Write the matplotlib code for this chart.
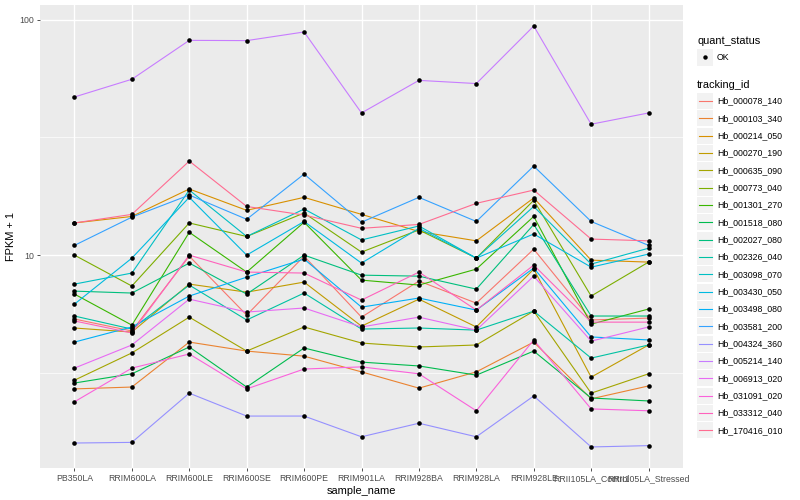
import numpy as np
import matplotlib
matplotlib.use("Agg")
import matplotlib.pyplot as plt
from matplotlib.lines import Line2D
from matplotlib.patches import Rectangle
from matplotlib.ticker import FixedLocator, NullFormatter

plt.rcParams['font.family'] = ['Liberation Sans', 'DejaVu Sans']

samples = ["PB350LA", "RRIM600LA", "RRIM600LE", "RRIM600SE", "RRIM600PE",
           "RRIM901LA", "RRIM928BA", "RRIM928LA", "RRIM928LE",
           "RRII105LA_Control", "RRII105LA_Stressed"]

tracking_ids = ["Hb_000078_140", "Hb_000103_340", "Hb_000214_050", "Hb_000270_190",
                "Hb_000635_090", "Hb_000773_040", "Hb_001301_270", "Hb_001518_080",
                "Hb_002027_080", "Hb_002326_040", "Hb_003098_070", "Hb_003430_050",
                "Hb_003498_080", "Hb_003581_200", "Hb_004324_360", "Hb_005214_140",
                "Hb_006913_020", "Hb_031091_020", "Hb_033312_040", "Hb_170416_010"]

colors = ["#F8766D", "#EA8331", "#D89000", "#C09B00", "#A3A500", "#7CAE00",
          "#39B600", "#00BB4E", "#00BF7D", "#00C1A3", "#00BFC4", "#00BAE0",
          "#00B0F6", "#35A2FF", "#9590FF", "#C77CFF", "#E76BF3", "#FA62DB",
          "#FF62BC", "#FF6C91"]

# FPKM + 1 values per tracking_id (columns follow `samples`)
Hb_000078_140 = [5.35, 4.76, 9.90, 5.56, 9.90, 5.45, 7.76, 6.25, 10.6, 5.30, 5.40]
Hb_000103_340 = [2.70, 2.75, 4.27, 3.91, 3.72, 3.19, 2.72, 3.19, 4.27, 2.45, 2.78]
Hb_000214_050 = [13.7, 14.6, 19.1, 15.5, 17.6, 14.9, 12.6, 11.5, 17.5, 9.52, 9.34]
Hb_000270_190 = [4.90, 4.71, 7.53, 6.96, 7.68, 4.99, 6.50, 4.95, 8.72, 3.03, 4.15]
Hb_000635_090 = [2.94, 3.84, 5.45, 3.91, 4.95, 4.23, 4.07, 4.15, 5.78, 2.59, 3.13]
Hb_000773_040 = [10.0, 7.39, 13.7, 12.0, 15.1, 10.3, 12.8, 9.71, 17.1, 6.70, 9.34]
Hb_001301_270 = [6.83, 5.04, 12.5, 8.47, 13.8, 7.83, 7.46, 8.72, 14.6, 5.09, 5.90]
Hb_001518_080 = [2.86, 3.13, 4.07, 2.75, 4.03, 3.51, 3.38, 3.09, 3.91, 2.47, 2.40]
Hb_002027_080 = [7.03, 6.90, 9.25, 6.83, 10.0, 8.22, 8.14, 7.17, 13.5, 5.51, 5.51]
Hb_002326_040 = [5.51, 4.85, 7.46, 5.30, 6.90, 4.85, 4.90, 4.80, 5.78, 3.65, 4.15]
Hb_003098_070 = [7.53, 8.39, 18.9, 12.0, 15.7, 11.6, 13.3, 9.71, 16.1, 9.16, 10.7]
Hb_003430_050 = [6.19, 9.71, 17.6, 10.0, 13.9, 9.25, 13.0, 9.71, 12.3, 8.89, 10.1]
Hb_003498_080 = [4.27, 4.95, 6.70, 8.06, 9.62, 6.01, 6.57, 5.84, 8.81, 4.49, 4.36]
Hb_003581_200 = [11.0, 14.5, 18.0, 14.2, 22.1, 13.8, 17.6, 13.9, 23.9, 13.9, 11.0]
Hb_004324_360 = [1.59, 1.60, 2.59, 2.07, 2.07, 1.69, 1.93, 1.69, 2.52, 1.53, 1.55]
Hb_005214_140 = [47.0, 55.9, 81.8, 81.6, 88.8, 40.2, 55.3, 53.6, 94.1, 36.0, 40.2]
Hb_006913_020 = [3.31, 4.15, 6.50, 5.73, 5.96, 4.95, 5.45, 4.80, 8.14, 4.31, 4.95]
Hb_031091_020 = [2.38, 3.31, 3.80, 2.70, 3.28, 3.35, 3.13, 2.18, 4.36, 2.22, 2.18]
Hb_033312_040 = [5.25, 4.67, 10.0, 8.47, 8.39, 6.44, 8.47, 5.84, 9.07, 5.19, 5.19]
Hb_170416_010 = [13.7, 14.9, 25.1, 16.1, 14.8, 13.0, 13.5, 16.6, 18.9, 11.7, 11.5]

series = [Hb_000078_140, Hb_000103_340, Hb_000214_050, Hb_000270_190, Hb_000635_090,
          Hb_000773_040, Hb_001301_270, Hb_001518_080, Hb_002027_080, Hb_002326_040,
          Hb_003098_070, Hb_003430_050, Hb_003498_080, Hb_003581_200, Hb_004324_360,
          Hb_005214_140, Hb_006913_020, Hb_031091_020, Hb_033312_040, Hb_170416_010]

W, H = 800, 500
fig = plt.figure(figsize=(8, 5), dpi=100)
fig.patch.set_facecolor("white")
ax = fig.add_axes([40 / W, 1 - 468 / H, (683 - 40) / W, (468 - 5) / H])
ax.set_facecolor("#EBEBEB")

x = np.arange(1, len(samples) + 1)
for vals, c in zip(series, colors):
    ax.plot(x, vals, color=c, lw=0.8, zorder=3)
for vals in series:
    ax.plot(x, vals, linestyle="none", marker="o", ms=3.3, color="black",
            markeredgewidth=0, zorder=4)

ax.set_yscale("log")
allv = np.log10(np.concatenate([np.array(s) for s in series]))
lo, hi = allv.min(), allv.max()
pad = 0.05 * (hi - lo)
ax.set_ylim(10 ** (lo - pad), 10 ** (hi + pad))
ax.set_xlim(0.4, len(samples) + 0.6)

ax.yaxis.set_major_locator(FixedLocator([10, 100]))
ax.set_yticklabels(["10", "100"])
ax.yaxis.set_minor_locator(FixedLocator([10 ** 0.5, 10 ** 1.5]))
ax.yaxis.set_minor_formatter(NullFormatter())
ax.set_xticks(x)
ax.set_xticklabels(samples)

ax.grid(which="major", color="white", lw=1.0, zorder=0)
ax.grid(which="minor", axis="y", color="white", lw=0.5, zorder=0)
ax.set_axisbelow(True)
for s in ax.spines.values():
    s.set_visible(False)
ax.tick_params(axis="both", which="major", length=2.5, width=0.6, color="#333333",
               labelsize=6.3, labelcolor="#4D4D4D", pad=2)
ax.tick_params(axis="y", which="minor", length=0)

ax.set_xlabel("sample_name", fontsize=7.9, labelpad=2)
ax.set_ylabel("FPKM + 1", fontsize=7.9, labelpad=2)

# legends (ggplot style, figure coordinates)
def fy(py):
    return 1 - py / H

tf = fig.transFigure
kx0, kx1 = 697, 713
fig.text(kx0 / W, fy(40.7), "quant_status", fontsize=7.9, va="center", ha="left")
fig.add_artist(Rectangle((kx0 / W, fy(65.5)), (kx1 - kx0) / W, 16 / H,
                         transform=tf, facecolor="#F2F2F2", edgecolor="none"))
fig.add_artist(Line2D([(kx0 + kx1) / 2 / W], [fy(57.3)], marker="o", ms=3.2,
                      color="black", markeredgewidth=0, transform=tf))
fig.text(717 / W, fy(57.3), "OK", fontsize=6.3, va="center", ha="left")

fig.text(kx0 / W, fy(85), "tracking_id", fontsize=7.9, va="center", ha="left")
for i, (tid, c) in enumerate(zip(tracking_ids, colors)):
    cy = 101 + i * 17.33
    fig.add_artist(Rectangle((kx0 / W, fy(cy + 8)), (kx1 - kx0) / W, 16 / H,
                             transform=tf, facecolor="#F2F2F2", edgecolor="none"))
    fig.add_artist(Line2D([(kx0 + 1.5) / W, (kx1 - 1.5) / W], [fy(cy), fy(cy)],
                          color=c, lw=0.8, transform=tf))
    fig.text(717 / W, fy(cy), tid, fontsize=6.3, va="center", ha="left")

fig.savefig("out.png", dpi=100)
